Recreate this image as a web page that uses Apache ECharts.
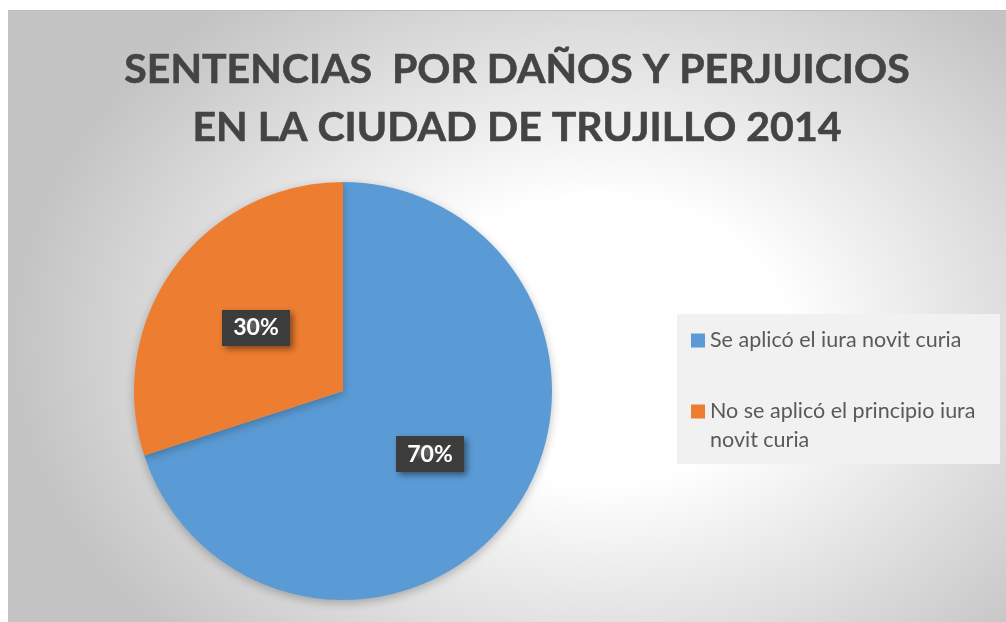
<!DOCTYPE html>
<html lang="es">
<head>
    <meta charset="UTF-8">
    <title>Sentencias por daños y perjuicios</title>
    <script src="https://cdn.jsdelivr.net/npm/echarts@6/dist/echarts.min.js"></script>
    <style>
        html, body { margin: 0; padding: 0; background: #fff; }
        #frame {
            position: absolute; left: 8px; top: 10px; width: 998px; height: 612px;
            background: radial-gradient(ellipse 580px 430px at 59% 54%, #ffffff 0%, #ffffff 33%, #c4c4c4 100%);
            border-top: 1px solid #bdbdbd;
            box-sizing: border-box;
        }
        #chart { width: 998px; height: 611px; }
    </style>
</head>
<body>
    <div id="frame"><div id="chart"></div></div>
    <script>
        // datos
        var categorias = ['Se aplicó el iura novit curia', 'No se aplicó el principio iura novit curia'];
        var valores = [70, 30];
        var textoLeyenda = ['Se aplicó el iura novit curia', 'No se aplicó el principio iura\nnovit curia'];
        var colores = ['#5b9bd5', '#ed7d31'];

        // patrón punteado para el fondo de las etiquetas
        var patron = document.createElement('canvas');
        patron.width = 7; patron.height = 7;
        var ctx = patron.getContext('2d');
        ctx.fillStyle = '#3c3c3c';
        ctx.fillRect(0, 0, 7, 7);
        ctx.fillStyle = '#5e5e5e';
        ctx.fillRect(2, 2, 2, 2);

        var myChart = echarts.init(document.getElementById('chart'));

        var option = {
            animation: false,
            title: {
                text: 'SENTENCIAS  POR DAÑOS Y PERJUICIOS\nEN LA CIUDAD DE TRUJILLO 2014',
                left: 504,
                textAlign: 'center',
                top: 25,
                textStyle: {
                    fontFamily: 'Lato',
                    fontWeight: 'bold',
                    fontSize: 41,
                    lineHeight: 58,
                    color: '#444444',
                    textBorderColor: '#444444',
                    textBorderWidth: 0.6
                }
            },
            graphic: [{
                type: 'rect',
                left: 669, top: 303,
                shape: { width: 323, height: 150 },
                style: { fill: '#f1f1f1' },
                z: 0
            }],
            legend: {
                orient: 'vertical',
                left: 683,
                top: 308,
                padding: 0,
                itemWidth: 14,
                itemHeight: 43,
                itemGap: 35,
                data: [
                    { name: categorias[0], icon: 'path://M0,0h0.001M0,14.5h14v14h-14zM0,43h0.001' },
                    { name: categorias[1], icon: 'path://M0,0h14v14h-14zM0,43h0.001' }
                ],
                formatter: function (name) {
                    return textoLeyenda[categorias.indexOf(name)];
                },
                textStyle: {
                    fontFamily: 'Lato',
                    fontSize: 21.5,
                    lineHeight: 29,
                    color: '#595959'
                },
                z: 5
            },
            color: colores,
            series: [{
                type: 'pie',
                center: [335, 380],
                radius: 209,
                startAngle: 90,
                clockwise: true,
                itemStyle: {
                    borderWidth: 0,
                    shadowBlur: 10,
                    shadowOffsetY: 3,
                    shadowColor: 'rgba(0,0,0,0.25)'
                },
                label: {
                    show: true,
                    position: 'inside',
                    formatter: '{d}%',
                    fontFamily: 'Lato',
                    fontWeight: 'bold',
                    fontSize: 23,
                    color: '#fff',
                    padding: [7, 11, 6, 11],
                    backgroundColor: { image: patron, repeat: 'repeat' },
                    shadowColor: 'rgba(0,0,0,0.45)',
                    shadowBlur: 6,
                    shadowOffsetX: 3,
                    shadowOffsetY: 3
                },
                labelLine: { show: false },
                emphasis: { disabled: true },
                data: categorias.map(function (c, i) {
                    return { name: c, value: valores[i] };
                })
            }]
        };

        myChart.setOption(option);
    </script>
</body>
</html>
